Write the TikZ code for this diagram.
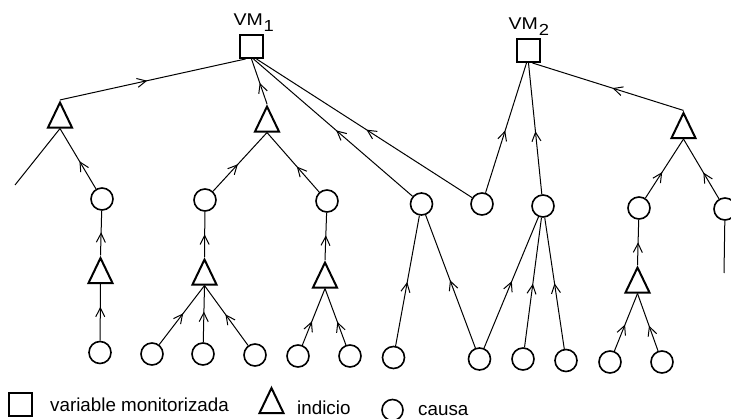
\documentclass[tikz,border=0pt]{standalone}
\usepackage{fontspec}
\setmainfont{Liberation Sans}
\usetikzlibrary{shapes.geometric,decorations.markings,arrows.meta}
\newcommand{\vmlabel}[1]{\scalebox{1.15}[1]{VM\kern0.8pt\raisebox{-6pt}{\fontsize{16}{17}\selectfont #1}}}
\begin{document}
\begin{tikzpicture}[x=1pt,y=-1pt,
  vm/.style={draw,rectangle,minimum size=23pt,inner sep=0pt,line width=2pt},
  ind/.style={draw,isosceles triangle,shape border rotate=90,isosceles triangle stretches,
              minimum width=24pt,minimum height=25pt,inner sep=0pt,line width=2pt},
  cau/.style={draw,circle,minimum size=22pt,inner sep=0pt,line width=1.6pt},
  link/.style={line width=1pt,postaction={decorate},
     decoration={markings,mark=at position #1 with
       {\arrow{Straight Barb[length=9pt,width=9pt,line width=1pt]}}}},
  link/.default=0.5,
  bare/.style={line width=1pt},
  lab/.style={inner sep=0pt,anchor=base west,font=\fontsize{17}{18}\selectfont},
  leg/.style={inner sep=0pt,anchor=base west,font=\fontsize{18.8}{20}\selectfont}]
\useasboundingbox (0,0) rectangle (731,419);

% monitored variables
\node[vm] (v1) at (251.5,46.5) {};
\node[vm] (v2) at (528.5,50.5) {};
\node[lab] (l1) at (233.3,25.7) {\vmlabel{1}};
\node[lab] (l2) at (508.3,30) {\vmlabel{2}};

% symptoms
\node[ind] (t1) at (60,120) {};
\node[ind] (t2) at (267,124) {};
\node[ind] (t3) at (683.5,130.5) {};
\node[ind] (t4) at (100.5,275.5) {};
\node[ind] (t5) at (204.5,277) {};
\node[ind] (t6) at (325,280) {};
\node[ind] (t7) at (637.5,285) {};

% causes, upper row
\node[cau] (c1) at (102,199) {};
\node[cau] (c2) at (205,200) {};
\node[cau] (c3) at (327,201) {};
\node[cau] (c4) at (421.5,204) {};
\node[cau] (c5) at (482,204) {};
\node[cau] (c6) at (543,206) {};
\node[cau] (c7) at (639,208) {};
\node[cau] (c8) at (725,209) {};

% causes, lower row
\node[cau] (b1) at (100,352.5) {};
\node[cau] (b2) at (152,354) {};
\node[cau] (b3) at (203,354) {};
\node[cau] (b4) at (255,355) {};
\node[cau] (b5) at (298,356) {};
\node[cau] (b6) at (350,356) {};
\node[cau] (b7) at (393.5,357.5) {};
\node[cau] (b8) at (479.5,359) {};
\node[cau] (b9) at (523,359) {};
\node[cau] (b10) at (566,360.5) {};
\node[cau] (b11) at (610,362) {};
\node[cau] (b12) at (662,362) {};

% loose ends
\coordinate (e1) at (15,185);
\coordinate (e2) at (724,273);

% links into VM1
\draw[link=0.47] (t1.apex) -- ([xshift=-6pt]v1.south);
\draw[link=0.47] (t2.apex) -- (v1.south);
\draw[link=0.48] (c4) -- ([xshift=2pt]v1.south);
\draw[link=0.49] (c5) -- ([xshift=5pt]v1.south);

% links into VM2
\draw[link=0.48] (c5) -- ([xshift=-2pt]v2.south);
\draw[link=0.48] (c6) -- (v2.south);
\draw[link=0.47] (t3.apex) -- ([xshift=4pt]v2.south);

% first level below the symptoms
\draw[bare] (t1.lower side) -- (e1);
\draw[link=0.46] (c1) -- (t1.lower side);
\draw[link=0.46] (c2) -- (t2.lower side);
\draw[link=0.43] (c3) -- (t2.lower side);
\draw[link=0.44] (c7) -- (t3.lower side);
\draw[link=0.44] (c8) -- (t3.lower side);
\draw[bare] (c8) -- (e2);

% lower symptoms
\draw[link=0.52] (t4.apex) -- (c1);
\draw[link=0.6] (b1) -- (t4.lower side);
\draw[link=0.5] (t5.apex) -- (c2);
\draw[link=0.53] (b2) -- (t5.lower side);
\draw[link=0.54] (b3) -- (t5.lower side);
\draw[link=0.52] (b4) -- (t5.lower side);
\draw[link=0.52] (t6.apex) -- (c3);
\draw[link=0.42] (b5) -- (t6.lower side);
\draw[link=0.41] (b6) -- (t6.lower side);
\draw[link=0.5] (t7.apex) -- (c7);
\draw[link=0.46] (b11) -- (t7.lower side);
\draw[link=0.44] (b12) -- (t7.lower side);

% causes linked straight to causes
\draw[link=0.49] (b7) -- (c4);
\draw[link=0.51] (b8) -- (c4);
\draw[link=0.51] (b8) -- (c6);
\draw[link=0.49] (b9) -- (c6);
\draw[link=0.5] (b10) -- (c6);

% legend
\node[vm] (ls) at (20,405) {};
\node[leg] (lst) at (50,411.7) {variable monitorizada};
\node[ind] (lt) at (271.5,405.5) {};
\node[leg] (ltt) at (297,415) {indicio};
\node[cau,minimum size=21pt] (lc) at (392.5,410) {};
\node[leg] (lct) at (418,416) {causa};
\end{tikzpicture}
\end{document}
